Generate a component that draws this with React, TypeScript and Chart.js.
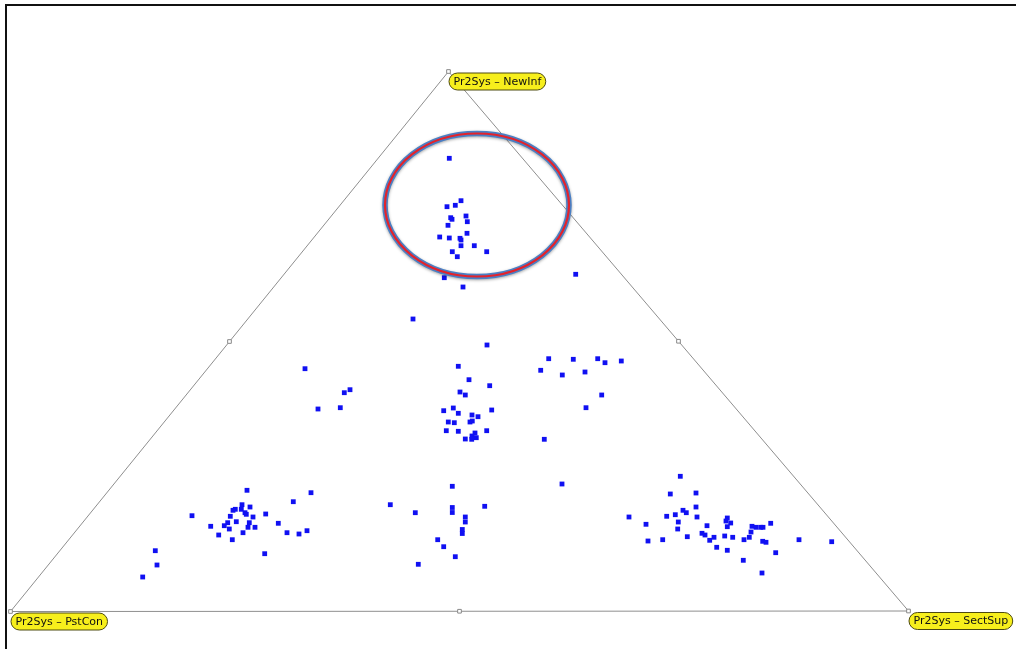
import React, { useEffect, useRef } from "react";
import { Chart, registerables } from "chart.js";

Chart.register(...registerables);

type Pt = { x: number; y: number };
const P = (x: number, y: number): Pt => ({ x, y });

// Plane extents (u across, v down)
const U_MAX = 1016;
const V_MAX = 649;

// Triangle corners: NewInf (top), PstCon (bottom left), SectSup (bottom right)
const vertexLabels = ["Pr2Sys \u2013 NewInf", "Pr2Sys \u2013 PstCon", "Pr2Sys \u2013 SectSup"];
const vertices: Pt[] = [P(448.5, 71.5), P(10.5, 611.5), P(908.5, 611)];

// Cases leaning toward NewInf
const newInfCluster: Pt[] = [
  P(449.3, 158.3), P(461, 200.7), P(455.3, 205.3), P(447, 206.7), P(450.7, 217.7),
  P(452, 219.3), P(466, 216), P(467.3, 221.7), P(448, 225.3), P(467, 233.3),
  P(439.7, 237), P(449.3, 238), P(460, 238.3), P(461, 240), P(461, 245.7),
  P(474.3, 245.7), P(452.3, 251.7), P(486.7, 251.7), P(457.3, 256.7),
  P(444.3, 277.7), P(463, 287), P(575.7, 274.3),
];

// Balanced cases around the centre
const centerCluster: Pt[] = [
  P(413, 319), P(487, 345),
  P(458.3, 366.3), P(469, 379.7), P(489.7, 385.7), P(460, 392), P(465.3, 395),
  P(453.3, 408), P(443.7, 410.7), P(491.7, 410), P(458.3, 413.3), P(472, 415),
  P(478, 416.7), P(448.3, 422), P(454.3, 422.7), P(470, 422), P(472.3, 421),
  P(446.3, 430.7), P(458.3, 431.3), P(486.7, 430.7), P(475, 433), P(472, 436),
  P(476.3, 437.7), P(465.3, 439), P(471.7, 439.3),
];

// Between NewInf and PstCon
const leftMidCluster: Pt[] = [
  P(305, 368.7), P(350, 389.7), P(344.3, 392.7), P(318, 409), P(340.3, 407.7),
];

// Between NewInf and SectSup
const rightMidCluster: Pt[] = [
  P(548.7, 358.7), P(573.3, 359.3), P(597.7, 358.7), P(605, 362.7), P(621.3, 361),
  P(540.7, 370.3), P(562.3, 375), P(585, 372), P(601.7, 395), P(586, 407.7),
  P(544.3, 439.3), P(562, 484),
];

// Cases leaning toward PstCon
const pstConCluster: Pt[] = [
  P(247, 490.3), P(311, 492.7), P(293.3, 501.7), P(242, 504.7), P(250, 507),
  P(235.3, 509.3), P(233, 510.3), P(241.3, 509.3), P(245, 512.7), P(246.3, 514.3),
  P(265.7, 514), P(192, 515.7), P(230.3, 516.3), P(253, 517), P(236.3, 521.7),
  P(227.7, 522.7), P(249.3, 522.7), P(278.3, 523.3), P(224.3, 525.7), P(210.7, 526.3),
  P(248, 527.3), P(255, 527.3), P(229.3, 529), P(243, 532.7), P(287, 532.7),
  P(307, 530.7), P(299, 534), P(218.7, 535), P(232.3, 539.7), P(264.7, 553.7),
  P(155.3, 550.7), P(157, 565), P(142.7, 577),
];

// Between PstCon and SectSup
const baseMidCluster: Pt[] = [
  P(452.3, 486.3), P(390.3, 504.7), P(484.7, 506.3), P(415.3, 512.7),
  P(452.3, 507.5), P(452.3, 512.5), P(465.3, 517), P(465.3, 522),
  P(462.3, 529.5), P(462.3, 533.5), P(437.7, 539.7), P(443.7, 546.7),
  P(455.3, 556.7), P(418.3, 564.3),
];

// Cases leaning toward SectSup
const sectSupCluster: Pt[] = [
  P(680.3, 476.3), P(670.3, 494), P(696, 493), P(696, 507), P(629, 517),
  P(683, 510.3), P(686.3, 512.7), P(675.3, 514.7), P(666.7, 516.3), P(697, 517),
  P(727.3, 518), P(726, 521), P(730.7, 523), P(646, 524.3), P(678.3, 522),
  P(707, 525.7), P(727.3, 526.7), P(770.7, 523.3), P(752, 526.3), P(756, 527.3),
  P(760.7, 527.3), P(763, 527.3), P(677.7, 529), P(751, 532), P(702, 533.3),
  P(705, 535), P(687.3, 536.7), P(714, 537.3), P(724.7, 536), P(732.7, 537.3),
  P(749.3, 537.3), P(744, 539.7), P(709.7, 540.3), P(662.7, 539.7), P(648, 541),
  P(762.7, 541.3), P(766, 542.3), P(799, 539.7), P(831.7, 541.7), P(716.7, 547.3),
  P(727.3, 550.3), P(775.7, 552.7), P(743.3, 560.3), P(762, 573),
];

// Highlight ring around the NewInf group
const highlight = { cx: 477, cy: 205, rx: 92, ry: 71.5 };

const allCases: Pt[] = [
  ...newInfCluster, ...centerCluster, ...leftMidCluster, ...rightMidCluster,
  ...pstConCluster, ...baseMidCluster, ...sectSupCluster,
];

const mid = (a: Pt, b: Pt): Pt => P((a.x + b.x) / 2, (a.y + b.y) / 2);

const highlightPlugin = {
  id: "highlightRing",
  afterDatasetsDraw(chart: any) {
    const { ctx, scales } = chart;
    const cx = scales.x.getPixelForValue(highlight.cx);
    const cy = scales.y.getPixelForValue(highlight.cy);
    const rx = Math.abs(scales.x.getPixelForValue(highlight.cx + highlight.rx) - cx);
    const ry = Math.abs(scales.y.getPixelForValue(highlight.cy + highlight.ry) - cy);
    ctx.save();
    ctx.beginPath();
    ctx.ellipse(cx, cy, rx, ry, 0, 0, Math.PI * 2);
    ctx.shadowColor = "rgba(0,0,0,0.35)";
    ctx.shadowBlur = 3;
    ctx.shadowOffsetY = 1;
    ctx.strokeStyle = "#4a7fc4";
    ctx.lineWidth = 5.5;
    ctx.stroke();
    ctx.shadowColor = "transparent";
    ctx.beginPath();
    ctx.ellipse(cx, cy, rx, ry, 0, 0, Math.PI * 2);
    ctx.strokeStyle = "#e3232b";
    ctx.lineWidth = 2.2;
    ctx.stroke();
    ctx.restore();
  },
};

const vertexLabelPlugin = {
  id: "vertexLabels",
  afterDatasetsDraw(chart: any) {
    const { ctx, scales } = chart;
    ctx.save();
    ctx.font = "11px 'DejaVu Sans', sans-serif";
    ctx.textBaseline = "middle";
    vertices.forEach((v, i) => {
      const x = scales.x.getPixelForValue(v.x) + 0.5;
      const y = scales.y.getPixelForValue(v.y) + 1.5;
      const text = vertexLabels[i];
      const w = ctx.measureText(text).width + 9;
      const h = 17;
      const r = h / 2;
      ctx.beginPath();
      ctx.moveTo(x + r, y);
      ctx.lineTo(x + w - r, y);
      ctx.arc(x + w - r, y + r, r, -Math.PI / 2, Math.PI / 2);
      ctx.lineTo(x + r, y + h);
      ctx.arc(x + r, y + r, r, Math.PI / 2, (3 * Math.PI) / 2);
      ctx.closePath();
      ctx.fillStyle = "#f7ef1c";
      ctx.fill();
      ctx.strokeStyle = "#4d4a10";
      ctx.lineWidth = 1;
      ctx.stroke();
      ctx.fillStyle = "#111";
      ctx.fillText(text, x + 4.5, y + r + 0.5);
    });
    ctx.restore();
  },
};

export default function App() {
  const canvasRef = useRef<HTMLCanvasElement>(null);

  useEffect(() => {
    if (!canvasRef.current) return;
    const [top, left, right] = vertices;
    const chart = new Chart(canvasRef.current, {
      type: "scatter",
      data: {
        datasets: [
          {
            label: "outline",
            data: [left, top, right, left],
            showLine: true,
            borderColor: "#8e8e8e",
            borderWidth: 1,
            pointRadius: 0,
            order: 3,
          },
          {
            label: "handles",
            data: [top, left, right, mid(top, left), mid(top, right), mid(left, right)],
            pointStyle: "rect",
            pointRadius: 2.6,
            backgroundColor: "#ffffff",
            borderColor: "#8a8a8a",
            borderWidth: 1,
            order: 2,
          },
          {
            label: "cases",
            data: allCases,
            pointStyle: "rect",
            pointRadius: 3.4,
            backgroundColor: "#1010f2",
            borderColor: "#1010f2",
            borderWidth: 0,
            order: 1,
          },
        ],
      },
      options: {
        animation: false,
        responsive: false,
        devicePixelRatio: 1,
        layout: { padding: 0, autoPadding: false },
        plugins: { legend: { display: false }, tooltip: { enabled: false } },
        scales: {
          x: { type: "linear", min: 0, max: U_MAX, display: false },
          y: { type: "linear", min: 0, max: V_MAX, reverse: true, display: false },
        },
      },
      plugins: [highlightPlugin, vertexLabelPlugin],
    });
    return () => chart.destroy();
  }, []);

  return (
    <div
      style={{
        position: "fixed",
        left: 0,
        top: 0,
        width: U_MAX,
        height: V_MAX,
        overflow: "hidden",
        background: "#fff",
      }}
    >
      <canvas ref={canvasRef} width={U_MAX} height={V_MAX} style={{ position: "absolute", left: 0, top: 0 }} />
      <div
        style={{
          position: "absolute",
          left: 5,
          top: 4,
          width: 1200,
          height: 800,
          border: "2px solid #111",
          pointerEvents: "none",
        }}
      />
    </div>
  );
}
